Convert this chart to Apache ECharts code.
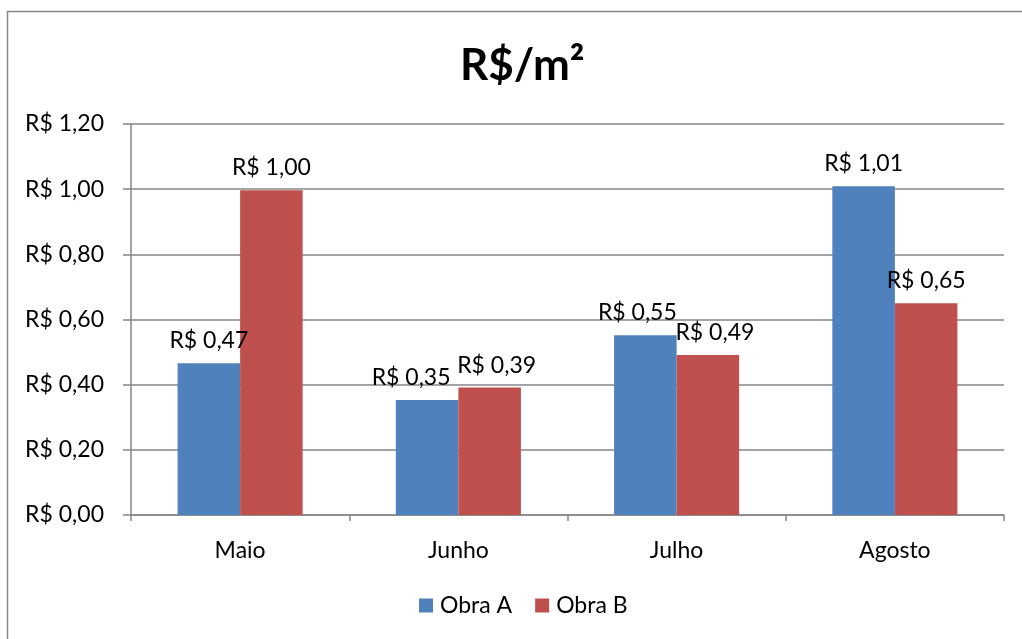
<!DOCTYPE html>
<html>
<head>
<meta charset="utf-8">
<script src="https://cdn.jsdelivr.net/npm/echarts@6/dist/echarts.min.js"></script>
<style>html,body{margin:0;padding:0;background:#fff;}#c{width:1022px;height:639px;}</style>
</head>
<body>
<div id="c"></div>
<script>
const categories = ['Maio', 'Junho', 'Julho', 'Agosto'];
const obraA = [0.466, 0.353, 0.552, 1.009];
const obraB = [0.997, 0.391, 0.491, 0.650];
const seriesNames = ['Obra A', 'Obra B'];
const yTicks = { min: 0, max: 1.2, interval: 0.2 };

// horizontal nudges of data labels (style only), to keep neighbouring labels apart
const labelShiftA = [0, -16, -8, 0];
const labelShiftB = [0, 7, 7, 0];

const fmt = v => 'R$ ' + Number(v).toFixed(2).replace('.', ',');
const FONT = 'Lato';
const FS = 23;
const chart = echarts.init(document.getElementById('c'));
const lbl = { show: true, position: 'top', distance: 11, formatter: p => fmt(p.value), color: '#000', fontFamily: FONT, fontSize: FS };
const withShift = (vals, shifts) => vals.map((v, i) => ({ value: v, label: { offset: [shifts[i], 0] } }));
chart.setOption({
  animation: false,
  backgroundColor: '#fff',
  title: { text: 'R$/m²', left: 455, top: 39, textStyle: { fontFamily: FONT, fontWeight: 'bold', fontSize: 44, color: '#000' } },
  graphic: [{ type: 'rect', shape: { x: 7.5, y: 11.5, width: 1040, height: 700 }, style: { fill: 'none', stroke: '#888', lineWidth: 1.5 }, silent: true }],
  legend: { bottom: 17, left: 414, itemWidth: 14, itemHeight: 14, itemGap: 23, icon: 'rect', textStyle: { fontFamily: FONT, fontSize: FS, color: '#000', padding: [0, 0, 0, 2] }, data: seriesNames },
  grid: { left: 131, right: 18, top: 124, bottom: 124, containLabel: false },
  xAxis: {
    type: 'category', data: categories,
    axisLine: { lineStyle: { color: '#868686', width: 1.5 } },
    axisTick: { show: true, length: 6, alignWithLabel: false, lineStyle: { color: '#868686', width: 1.5 } },
    axisLabel: { margin: 24, color: '#000', fontFamily: FONT, fontSize: FS }
  },
  yAxis: {
    type: 'value', min: yTicks.min, max: yTicks.max, interval: yTicks.interval,
    axisLine: { show: true, lineStyle: { color: '#868686', width: 1.5 } },
    axisTick: { show: true, length: 8, lineStyle: { color: '#868686', width: 1.5 } },
    splitLine: { lineStyle: { color: '#868686', width: 1.5 } },
    axisLabel: { margin: 27, color: '#000', fontFamily: FONT, fontSize: FS, formatter: fmt }
  },
  series: [
    { name: seriesNames[0], type: 'bar', data: withShift(obraA, labelShiftA), itemStyle: { color: '#4F81BD' }, barGap: '0%', barCategoryGap: '42.7%', label: lbl },
    { name: seriesNames[1], type: 'bar', data: withShift(obraB, labelShiftB), itemStyle: { color: '#C0504D' }, barGap: '0%', barCategoryGap: '42.7%', label: lbl }
  ]
});
</script>
</body>
</html>
